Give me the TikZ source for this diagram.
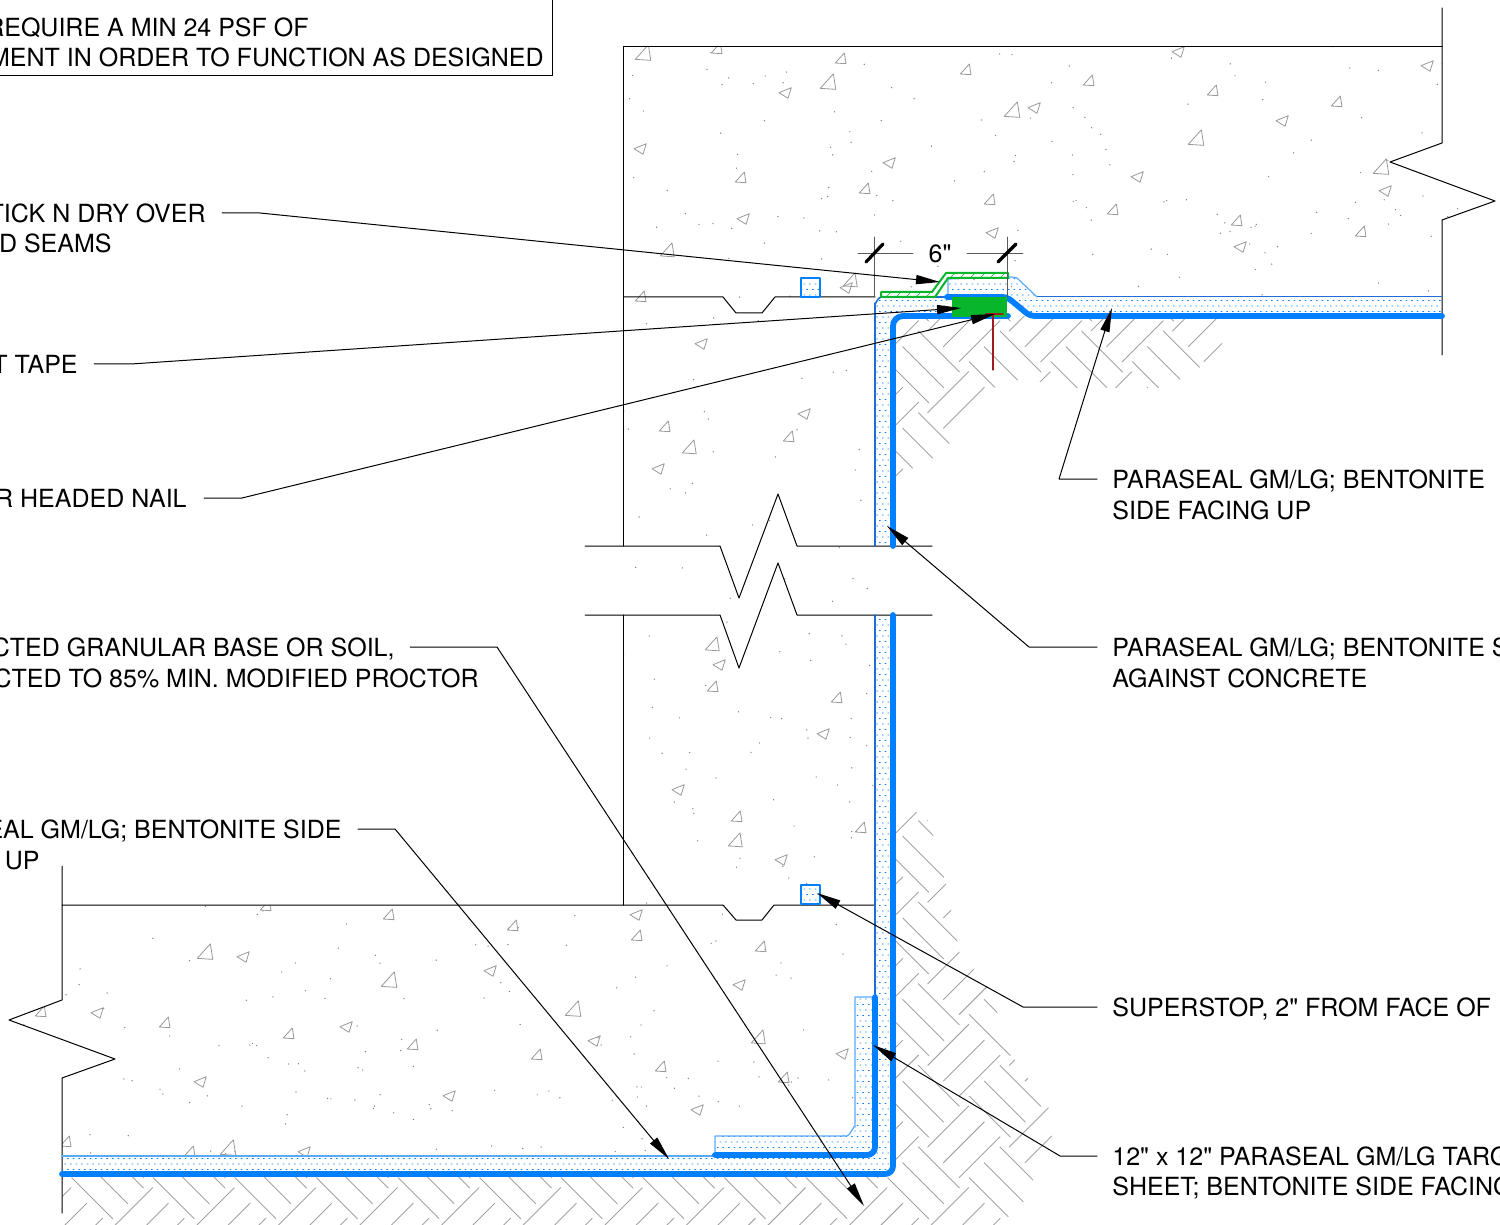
\documentclass[tikz,border=0pt]{standalone}
\usepackage{fontspec}
\newfontfamily\lblfont{TeX Gyre Heros}
\usetikzlibrary{arrows.meta,patterns}
\definecolor{memblue}{RGB}{0,128,255}
\definecolor{thinblue}{RGB}{30,110,215}
\definecolor{paleblue}{RGB}{90,170,255}
\definecolor{tapegreen}{RGB}{8,182,44}
\definecolor{nailred}{RGB}{160,28,28}
\pgfdeclarepatternformonly{bentonite}{\pgfqpoint{-1pt}{-1pt}}{\pgfqpoint{4pt}{6pt}}{\pgfqpoint{2.8pt}{5.5pt}}{
	\pgfpathrectangle{\pgfqpoint{0pt}{0pt}}{\pgfqpoint{.75pt}{.45pt}}
	\pgfpathrectangle{\pgfqpoint{1.4pt}{2.75pt}}{\pgfqpoint{.75pt}{.45pt}}
	\pgfusepath{fill}
}
\begin{document}
\begin{tikzpicture}[x=.5pt,y=-.5pt,>={Stealth[inset=0pt,length=12pt,width=4.6pt]},line join=round,line cap=round,font=\lblfont\fontsize{12.5}{15}\selectfont,
	wall/.style={draw=black,line width=.5pt},
	leader/.style={draw=black,line width=.5pt},
	aggr/.style={draw=black!40,line width=.4pt},
	hatch/.style={draw=black!36,line width=.45pt},
	bent/.style={pattern=bentonite,pattern color=memblue},
	mem/.style={draw=memblue,line width=2.9pt},
	txt/.style={inner sep=0pt,text height=9pt,text depth=0pt}]
	\useasboundingbox (0,0) rectangle (1500,1225);
	\begin{scope}
		\clip (624,46)--(1442,46)--(1442,143)--(1390,162)--(1495,201)--(1442,220)--(1442,297)--(875,297)--(875,1157)--(62,1157)--(62,1078)--(115,1059)--(9,1020)--(62,1000)--(62,905)--(624,905)--cycle;
		\pgfmathsetseed{41}
		\foreach \i in {1,...,1100}{
			\fill[black!50] ({rnd*1490+5},{rnd*1180+40}) circle (.36pt);
		}
		\foreach \x/\y/\s in {645/55/1.45,830/84/1.45,1014/112/1.45,718/50/1,842/60/1,967/71/1,742/179/1,866/190/1,991/201/1,669/252/1.3,1090/82/1,1214/92/1,1338/103/1,1114/211/1,1238/222/1,1362/233/1,1198/140/1.45,1383/169/1.45,207/954/1.45,391/982/1.45,230/1150/1.45,267/907/1,390/916/1,42/1013/1,166/1024/1,290/1035/1,414/1046/1,67/1143/1,191/1153/1,642/298/1,852/282/1.3,666/428/1,790/438/1,691/449/1.3,714/646/1.3,714/688/1,838/699/1,738/818/1,737/842/1.3,862/829/1,514/927/1,638/937/1,762/948/1,575/1011/1.45,538/1056/1,760/1039/1.3,662/1068/1,785/1079/1}{
			\draw[aggr,shift={(\x,\y)},scale=\s] (-6.7,3)--(2.3,-7)--(4,3.7)--cycle;
		}
		\foreach \x/\y in {786/93,1035/108,641/149,890/163,744/219,993/233,1179/52,1428/66,1283/121,1138/177,1386/191,1241/247,244/957,98/1013,347/1027,201/1082,450/1096,305/1152,847/288,702/344,805/414,659/469,720/665,824/734,679/790,782/860,637/915,491/971,740/985,595/1041,843/1054,698/1110}{
			\draw[aggr,shift={(\x,\y)}] (-7,-.3)--(5.3,-5.3)--(2,5.3)--cycle;
		}
	\end{scope}
	\begin{scope}
		\clip (893,316)--(1222,316)--(1222,345)--(1199,368)--(1181,379)--(1158,388)--(1075,388)--(1042,382)--(1018,380)--(993,388)--(985,388)--(949,444)--(933,458)--(913,468)--(893,480)--cycle
		(893,812)--(925,812)--(933,835)--(945,880)--(960,955)--(985,980)--(1015,1060)--(1050,1110)--(1052,1140)--(1030,1165)--(1035,1190)--(1000,1225)--(62,1225)--(62,1174)--(893,1174)--cycle;
		\foreach \i in {0,...,15}{
			\foreach \j in {0,...,12}{
				\begin{scope}[shift={({20.8+\i*81.6},{249.4+\j*81.6})}]
					\draw[hatch] (0,0)--++(41,41) (-15.7,15.7)--++(41,41) (-30.7,30.7)--++(41,41);
					\draw[hatch] (9.3,0)--++(41,-41) (25,15.7)--++(41,-41) (40.7,30.7)--++(41,-41);
				\end{scope}
			}
		}
	\end{scope}
	\draw[wall] (623.5,46.5)--(1442,46.5);
	\draw[wall] (623.5,46.5)--(623.5,546);
	\draw[wall] (623.5,615)--(623.5,905);
	\draw[wall] (1442,8)--(1442,143)--(1390,162)--(1495,201)--(1442,220)--(1442,355);
	\draw[wall] (62,866)--(62,1000)--(9,1020)--(115,1059)--(62,1078)--(62,1213);
	\draw[wall] (585,546)--(720,546)--(739,598)--(778,494)--(797,546)--(932,546);
	\draw[wall] (585,615)--(720,615)--(739,668)--(778,563)--(797,615)--(932,615);
	\draw[wall] (624,297)--(723,297)--(736,313)--(762,313)--(775,297)--(875,297);
	\draw[wall] (62,905)--(723,905)--(736,920)--(762,920)--(774,905)--(875,905);
	\draw[wall] (552,0)--(552,75.5)--(0,75.5);
	\fill[bent] (875,615)--(893,615)--(893,1174)--(62,1174)--(62,1156)--(875,1156)--cycle;
	\fill[bent] (875,546)--(875,297)--(947,297)--(947,316)--(893,316)--(893,546)--cycle;
	\fill[bent] (948,297)--(948,279)--(1015,278)--(1037,297)--(1442,297)--(1442,316)--(1030,316)--(1008,297)--cycle;
	\draw[thinblue,line width=.8pt] (875,546)--(875,303) to[out=-90,in=180] (881,297)--(947,297);
	\draw[thinblue,line width=.8pt] (875,615)--(875,997);
	\draw[thinblue,line width=.5pt] (1037,297)--(1442,297);
	\draw[paleblue,line width=.6pt] (948,297)--(948,279)--(1012,277)--(1017,278)--(1037,297);
	\draw[paleblue,line width=.7pt] (62,1156)--(715,1156);
	\fill[white,rounded corners=4pt] (875,997)--(855,997)--(855,1136)--(715,1136)--(715,1155)--(875,1155)--cycle;
	\fill[bent,rounded corners=4pt] (875,997)--(855,997)--(855,1136)--(715,1136)--(715,1155)--(875,1155)--cycle;
	\draw[paleblue,line width=.6pt] (875,997)--(855,997)--(855,1127) to[out=90,in=0] (846,1136)--(715,1136)--(715,1155);
	\draw[mem,rounded corners=4pt] (875,997)--(875,1155)--(715,1155);
	\draw[mem,rounded corners=4pt] (62,1174)--(893,1174)--(893,615);
	\draw[mem,rounded corners=5pt] (893,546)--(893,316)--(1008,316);
	\draw[mem,rounded corners=2.5pt] (947,297)--(1007,297)--(1030,316)--(1442,316);
	\fill[tapegreen] (952,297) rectangle (1007,317);
	\foreach \x/\y in {801/278,801/885}{
		\draw[memblue,line width=.9pt,shift={(\x,\y)}] (0,0) rectangle (19,19);
		\fill[bent,shift={(\x,\y)}] (0,0) rectangle (19,19);
	}
	\draw[tapegreen,line width=1pt,fill=white] (881,292)--(932,292)--(946,273)--(1008,273)--(1008,278)--(948,278)--(935,297)--(881,297)--cycle;
	\foreach \x in {886,896,...,926}{
		\draw[tapegreen,line width=.3pt] (\x,297)--++(5,-5);
	}
	\foreach \x in {950,960,...,1000}{
		\draw[tapegreen,line width=.3pt] (\x,278)--++(5,-5);
	}
	\draw[nailred,line width=.6pt] (993,315)--(993,370) (986,314)--(1003,314);
	\draw[black!65,line width=.4pt] (874,237)--(874,297) (1007,237)--(1007,297);
	\draw[black!65,line width=.4pt] (858,253)--(913,253) (967,253)--(1023,253);
	\draw[black,line width=1.6pt] (866,262)--(883,244) (998,262)--(1016,244);
	\node[txt] (dimsix) at (940,254) {6"};
	\node[txt,anchor=east] (noteone) at (309,28) {REQUIRE A MIN 24 PSF OF};
	\node[txt,anchor=east] (notetwo) at (544,58) {MENT IN ORDER TO FUNCTION AS DESIGNED};
	\node[txt,anchor=east] (stickone) at (206,214) {TICK N DRY OVER};
	\node[txt,anchor=east] (sticktwo) at (112,244) {D SEAMS};
	\node[txt,anchor=east] (tape) at (78,364) {T TAPE};
	\node[txt,anchor=east] (nail) at (187,498) {R HEADED NAIL};
	\node[txt,anchor=east] (baseone) at (395,647) {CTED GRANULAR BASE OR SOIL,};
	\node[txt,anchor=east] (basetwo) at (479,678) {CTED TO 85\% MIN. MODIFIED PROCTOR};
	\node[txt,anchor=east] (sealone) at (342,829) {EAL GM/LG; BENTONITE SIDE};
	\node[txt,anchor=east] (sealtwo) at (40,860) {UP};
	\node[txt,anchor=west] (upone) at (1112,479) {PARASEAL GM/LG; BENTONITE};
	\node[txt,anchor=west] (uptwo) at (1112,510) {SIDE FACING UP};
	\node[txt,anchor=west] (againstone) at (1112,647) {PARASEAL GM/LG; BENTONITE S};
	\node[txt,anchor=west] (againsttwo) at (1112,678) {AGAINST CONCRETE};
	\node[txt,anchor=west] (superstop) at (1112,1007) {SUPERSTOP, 2" FROM FACE OF};
	\node[txt,anchor=west] (targetone) at (1112,1156) {12" x 12" PARASEAL GM/LG TARG};
	\node[txt,anchor=west] (targettwo) at (1112,1186) {SHEET; BENTONITE SIDE FACING};
	\coordinate (tipstick) at (940,282);
	\coordinate (tiptape) at (961,308);
	\coordinate (tipnail) at (995,314);
	\coordinate (tipbase) at (864,1206);
	\coordinate (tipseal) at (669,1159);
	\coordinate (tipup) at (1112,308);
	\coordinate (tipagainst) at (887,526);
	\coordinate (tipsuperstop) at (817,893);
	\coordinate (tiptarget) at (873,1045);
	\draw[leader,->] (stickone.east) ++(16,-1)--++(38,0)--(tipstick);
	\draw[leader,->] (tape.east) ++(16,0)--++(37,0)--(tiptape);
	\draw[leader,->] (nail.east) ++(17,0)--++(38,0)--(tipnail);
	\draw[leader,->] (baseone.east) ++(15,0)--++(87,0)--(tipbase);
	\draw[leader,->] (sealone.east) ++(16,0)--++(37,0)--(tipseal);
	\draw[leader,->] (upone.west) ++(-15,0)--++(-38,0)--(tipup);
	\draw[leader,->] (againstone.west) ++(-15,0)--++(-68,0)--(tipagainst);
	\draw[leader,->] (superstop.west) ++(-15,0)--++(-74,0)--(tipsuperstop);
	\draw[leader,->] (targetone.west) ++(-15,0)--++(-37,0)--(tiptarget);
\end{tikzpicture}
\end{document}
